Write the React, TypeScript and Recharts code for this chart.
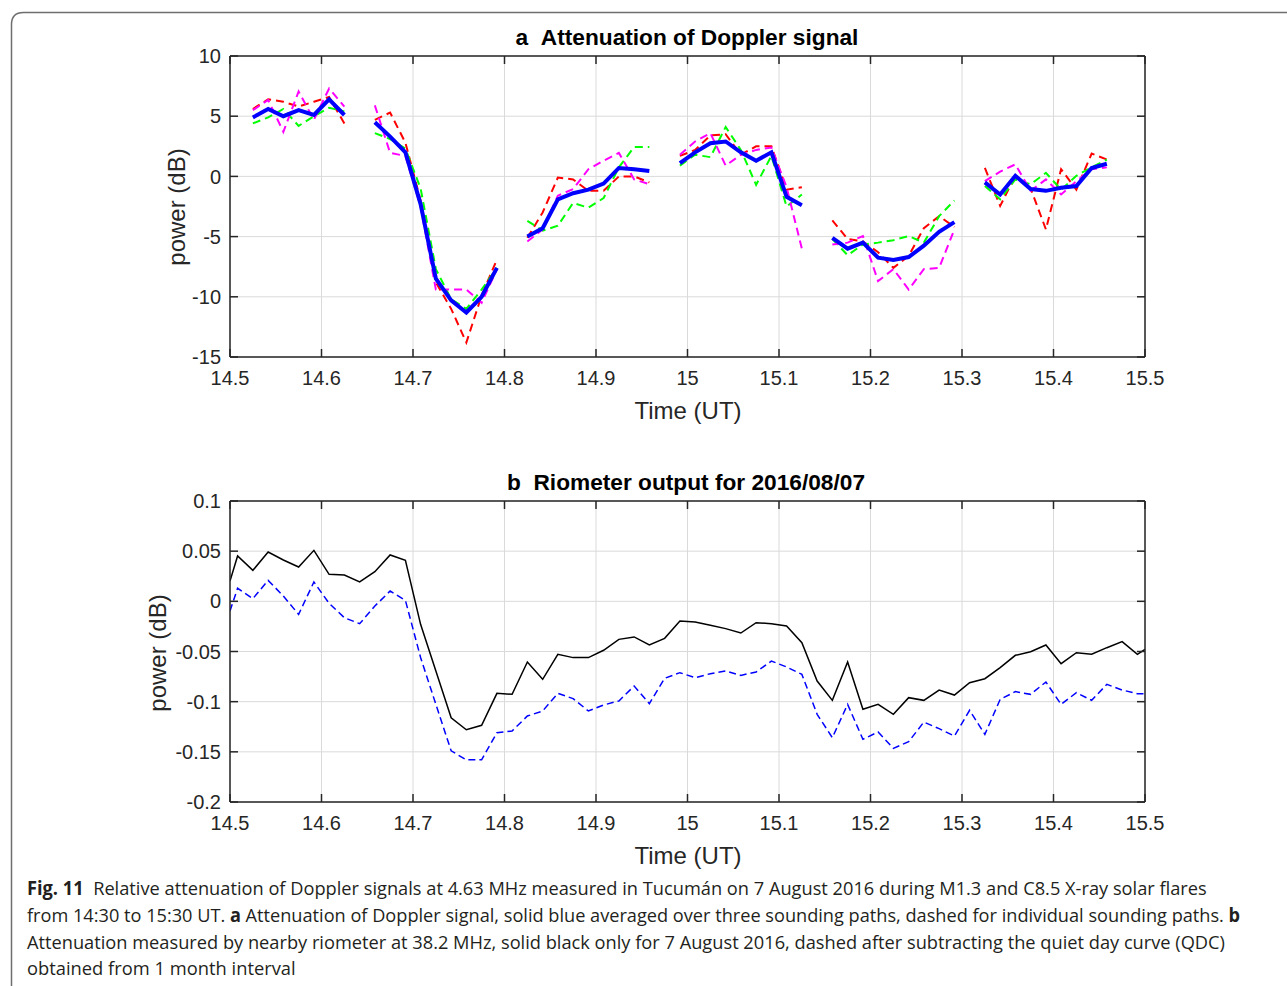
import React, { useLayoutEffect, useRef, useState } from "react";
import { LineChart, Line, XAxis, YAxis, CartesianGrid } from "recharts";

// Doppler attenuation, sampled once a minute (decimal hours UT), six recording windows
const dopplerTimes = [
  [14.525, 14.5417, 14.5583, 14.575, 14.5917, 14.6083, 14.625],
  [14.6583, 14.675, 14.6917, 14.7083, 14.725, 14.7417, 14.7583, 14.775, 14.7917],
  [14.825, 14.8417, 14.8583, 14.875, 14.8917, 14.9083, 14.925, 14.9417, 14.9583],
  [14.9917, 15.0083, 15.025, 15.0417, 15.0583, 15.075, 15.0917, 15.1083, 15.125],
  [15.1583, 15.175, 15.1917, 15.2083, 15.225, 15.2417, 15.2583, 15.275, 15.2917],
  [15.325, 15.3417, 15.3583, 15.375, 15.3917, 15.4083, 15.425, 15.4417, 15.4583],
];
const avgPower = [
  [4.9, 5.6, 5.0, 5.5, 5.1, 6.4, 5.1],
  [4.5, 3.3, 2.0, -2.3, -8.5, -10.3, -11.3, -10.0, -7.6],
  [-5.0, -4.3, -1.9, -1.4, -1.1, -0.6, 0.7, 0.6, 0.45],
  [1.1, 2.0, 2.75, 2.9, 2.0, 1.3, 2.0, -1.7, -2.4],
  [-5.1, -6.0, -5.5, -6.75, -6.95, -6.7, -5.75, -4.6, -3.8],
  [-0.5, -1.5, 0.05, -1.05, -1.2, -0.95, -0.8, 0.7, 1.05],
];
const pathRed = [
  [5.6, 6.4, 6.2, 5.8, 6.2, 6.6, 4.4],
  [4.7, 5.3, 2.8, -2.0, -8.8, -11.0, -13.8, -9.9, -6.9],
  [-5.1, -3.0, -0.1, -0.25, -1.2, -1.2, 0.0, 0.0, -0.5],
  [1.7, 2.2, 3.4, 3.5, 1.8, 2.5, 2.5, -1.1, -0.9],
  [-3.65, -5.2, -5.4, -6.3, -7.6, -6.6, -4.3, -3.3, -4.2],
  [0.7, -2.45, 0.05, -1.0, -4.4, 0.6, -1.1, 1.9, 1.4],
];
const pathGreen = [
  [4.4, 4.9, 5.6, 4.2, 5.0, 5.7, 5.4],
  [3.6, 3.1, 2.3, -1.0, -7.7, -10.2, -11.0, -9.4, -7.6],
  [-3.7, -4.5, -4.1, -2.2, -2.6, -1.8, 0.75, 2.45, 2.45],
  [0.9, 1.8, 1.6, 4.1, 2.2, -0.7, 1.7, -2.5, -1.5],
  [-5.2, -6.55, -5.65, -5.5, -5.3, -4.95, -5.5, -3.3, -2.0],
  [-0.8, -1.9, -0.25, -0.65, 0.3, -1.1, 0.05, 0.75, 1.4],
];
const pathMagenta = [
  [5.5, 6.35, 3.7, 7.05, 4.7, 7.3, 5.8],
  [5.9, 1.95, 1.7, -2.5, -9.4, -9.4, -9.4, -10.5, -7.7],
  [-5.4, -4.4, -1.6, -1.05, 0.6, 1.3, 1.95, -0.25, -0.65],
  [1.8, 2.9, 3.6, 0.9, 1.8, 2.2, 2.4, -0.9, -6.0],
  [-5.65, -5.5, -4.95, -8.7, -7.7, -9.4, -7.7, -7.6, -4.4],
  [-0.4, 0.4, 1.0, -1.2, -0.25, -1.5, -0.4, 0.6, 0.75],
];

// Riometer output, one value per minute
const rioTimes = [
  14.5, 14.5083, 14.525, 14.5417, 14.5583, 14.575, 14.5917, 14.6083, 14.625, 14.6417,
  14.6583, 14.675, 14.6917, 14.7083, 14.725, 14.7417, 14.7583, 14.775, 14.7917, 14.8083,
  14.825, 14.8417, 14.8583, 14.875, 14.8917, 14.9083, 14.925, 14.9417, 14.9583, 14.975,
  14.9917, 15.0083, 15.025, 15.0417, 15.0583, 15.075, 15.0917, 15.1083, 15.125, 15.1417,
  15.1583, 15.175, 15.1917, 15.2083, 15.225, 15.2417, 15.2583, 15.275, 15.2917, 15.3083,
  15.325, 15.3417, 15.3583, 15.375, 15.3917, 15.4083, 15.425, 15.4417, 15.4583, 15.475,
  15.4917, 15.5,
];
const rioRaw = [
  0.0203, 0.0452, 0.0309, 0.0492, 0.0412, 0.0342, 0.0508, 0.0269, 0.0262, 0.0193,
  0.0296, 0.0462, 0.0409, -0.0229, -0.0694, -0.116, -0.128, -0.1236, -0.0917, -0.0927,
  -0.0605, -0.0777, -0.0528, -0.0561, -0.0561, -0.0488, -0.0379, -0.0355, -0.0435, -0.0369,
  -0.0196, -0.0206, -0.0239, -0.0272, -0.0316, -0.0213, -0.0223, -0.0246, -0.0412, -0.0794,
  -0.0987, -0.0605, -0.1076, -0.1027, -0.1126, -0.096, -0.0987, -0.0884, -0.0934, -0.0811,
  -0.0771, -0.0661, -0.0538, -0.0502, -0.0435, -0.0621, -0.0512, -0.0528, -0.0462, -0.0402,
  -0.0528, -0.0478,
];
const rioQdc = [
  -0.0096, 0.013, 0.0027, 0.0209, 0.0053, -0.013, 0.0193, -0.002, -0.0163, -0.0223,
  -0.0047, 0.0103, 0.001, -0.056, -0.1027, -0.149, -0.158, -0.158, -0.1309, -0.1292,
  -0.1143, -0.1093, -0.0917, -0.097, -0.1093, -0.1033, -0.0993, -0.0844, -0.102, -0.0767,
  -0.0711, -0.0761, -0.0721, -0.0694, -0.0738, -0.0704, -0.0595, -0.0654, -0.0728, -0.1126,
  -0.1359, -0.1027, -0.1375, -0.1302, -0.1465, -0.1399, -0.1203, -0.1269, -0.1342, -0.1086,
  -0.1326, -0.0977, -0.09, -0.0927, -0.0804, -0.1027, -0.091, -0.0987, -0.0827, -0.0884,
  -0.092, -0.092,
];

const timeTicks = [14.5, 14.6, 14.7, 14.8, 14.9, 15, 15.1, 15.2, 15.3, 15.4, 15.5];
const dopplerTicks = [-15, -10, -5, 0, 5, 10];
const rioTicks = [-0.2, -0.15, -0.1, -0.05, 0, 0.05, 0.1];

// one row per sample, plus an empty row between windows so the lines break
const dopplerRows = dopplerTimes.flatMap((seg, s) => {
  const rows: any[] = seg.map((t, i) => ({
    t,
    avg: avgPower[s][i],
    red: pathRed[s][i],
    green: pathGreen[s][i],
    magenta: pathMagenta[s][i],
  }));
  if (s < dopplerTimes.length - 1) {
    const gap = (seg[seg.length - 1] + dopplerTimes[s + 1][0]) / 2;
    rows.push({ t: gap, avg: null, red: null, green: null, magenta: null });
  }
  return rows;
});

const rioRows = rioTimes.map((t, i) => ({ t, raw: rioRaw[i], qdc: rioQdc[i] }));

const AXIS = "#262626";
const tickFont = { fontFamily: "Liberation Sans, Arial, sans-serif", fontSize: 20, fill: AXIS };
const fmt = (d: number) => (v: number) => String(Number(v.toFixed(d)));
const blank = () => "";
const edge = { stroke: AXIS, strokeWidth: 1.5 };

// MATLAB-style box: ticks point inward on all four sides, labels only bottom/left
function boxAxes(yDomain: number[], yTicks: number[], yDigits: number, ghostKey: string) {
  return [
    <CartesianGrid key="g" stroke="#dadada" strokeWidth={1} />,
    <XAxis
      key="xb"
      type="number"
      dataKey="t"
      domain={[14.5, 15.5]}
      ticks={timeTicks}
      allowDataOverflow
      height={30}
      tickSize={-8}
      tickMargin={22}
      tick={tickFont}
      tickFormatter={fmt(1)}
      axisLine={edge}
      tickLine={edge}
    />,
    <XAxis
      key="xt"
      xAxisId="top"
      orientation="top"
      type="number"
      dataKey="t"
      domain={[14.5, 15.5]}
      ticks={timeTicks}
      allowDataOverflow
      height={1}
      tickSize={-8}
      tickFormatter={blank}
      axisLine={edge}
      tickLine={edge}
    />,
    <YAxis
      key="yl"
      type="number"
      domain={yDomain}
      ticks={yTicks}
      allowDataOverflow
      width={60}
      tickSize={-8}
      tickMargin={17}
      tick={tickFont}
      tickFormatter={fmt(yDigits)}
      axisLine={edge}
      tickLine={edge}
    />,
    <YAxis
      key="yr"
      yAxisId="right"
      orientation="right"
      type="number"
      domain={yDomain}
      ticks={yTicks}
      allowDataOverflow
      width={1}
      tickSize={-8}
      tickFormatter={blank}
      axisLine={edge}
      tickLine={edge}
    />,
    // invisible series tying the top/right axes to the data so they get drawn
    <Line
      key="ghost"
      xAxisId="top"
      yAxisId="right"
      dataKey={ghostKey}
      stroke="none"
      dot={false}
      activeDot={false}
      isAnimationActive={false}
      legendType="none"
    />,
  ];
}

const chartMargin = { top: 55, right: 141, left: 170, bottom: 13 };

function DopplerPanel() {
  const dashed = { strokeWidth: 2, strokeDasharray: "8 5", dot: false, activeDot: false, isAnimationActive: false, connectNulls: false };
  return (
    <LineChart width={1287} height={400} data={dopplerRows} margin={chartMargin}>
      {boxAxes([-15, 10], dopplerTicks, 0, "avg")}
      <Line type="linear" dataKey="red" stroke="#ff0000" {...dashed} />
      <Line type="linear" dataKey="green" stroke="#00ff00" {...dashed} />
      <Line type="linear" dataKey="magenta" stroke="#ff00ff" {...dashed} />
      <Line
        type="linear"
        dataKey="avg"
        stroke="#0000ff"
        strokeWidth={4}
        dot={false}
        activeDot={false}
        isAnimationActive={false}
        connectNulls={false}
      />
    </LineChart>
  );
}

function RiometerPanel() {
  return (
    <LineChart width={1287} height={400} data={rioRows} margin={chartMargin}>
      {boxAxes([-0.2, 0.1], rioTicks, 2, "raw")}
      <Line
        type="linear"
        dataKey="qdc"
        stroke="#0000ff"
        strokeWidth={1.5}
        strokeDasharray="7 4"
        dot={false}
        activeDot={false}
        isAnimationActive={false}
      />
      <Line
        type="linear"
        dataKey="raw"
        stroke="#000000"
        strokeWidth={1.5}
        dot={false}
        activeDot={false}
        isAnimationActive={false}
      />
    </LineChart>
  );
}

const labelFont = "Liberation Sans, Arial, sans-serif";
const capFont = "'Open Sans', 'Noto Sans', sans-serif";
const capColor = "#231f20";

// caption line squeezed horizontally to a set width (the journal face is condensed)
function CaptionLine({ y, width, children }: { y: number; width: number; children: React.ReactNode }) {
  const ref = useRef<SVGTextElement>(null);
  const [sx, setSx] = useState(1);
  useLayoutEffect(() => {
    const w = ref.current ? ref.current.getComputedTextLength() : 0;
    if (w > 0) setSx(width / w);
  }, [width]);
  return (
    <text
      ref={ref}
      transform={`translate(27 ${y}) scale(${sx} 1)`}
      fontFamily={capFont}
      fontSize={19}
      fill={capColor}
    >
      {children}
    </text>
  );
}

function Overlay() {
  return (
    <svg width={1287} height={986} style={{ position: "absolute", left: 0, top: 0, pointerEvents: "none" }}>
      <path d="M 11.5 1000 L 11.5 24.5 Q 11.5 12.5 23.5 12.5 L 1300 12.5" fill="none" stroke="#6e6e6e" strokeWidth={1.5} />

      <text x={687} y={45} textAnchor="middle" fontFamily={labelFont} fontSize={22.7} fontWeight="bold" fill="#000">
        a{"\u00a0\u00a0"}Attenuation of Doppler signal
      </text>
      <text x={686} y={490} textAnchor="middle" fontFamily={labelFont} fontSize={22.7} fontWeight="bold" fill="#000">
        b{"\u00a0\u00a0"}Riometer output for 2016/08/07
      </text>

      <text x={688} y={419} textAnchor="middle" fontFamily={labelFont} fontSize={24} fill={AXIS}>
        Time (UT)
      </text>
      <text x={688} y={864} textAnchor="middle" fontFamily={labelFont} fontSize={24} fill={AXIS}>
        Time (UT)
      </text>
      <text
        transform="translate(176 207) rotate(-90)"
        textAnchor="middle"
        dominantBaseline="central"
        fontFamily={labelFont}
        fontSize={24}
        fill={AXIS}
      >
        power (dB)
      </text>
      <text
        transform="translate(157 653) rotate(-90)"
        textAnchor="middle"
        dominantBaseline="central"
        fontFamily={labelFont}
        fontSize={24}
        fill={AXIS}
      >
        power (dB)
      </text>

      <CaptionLine y={895} width={1181}>
        <tspan fontWeight="bold">Fig. 11</tspan>
        {"\u00a0\u00a0"}Relative attenuation of Doppler signals at 4.63 MHz measured in Tucumán on 7 August 2016 during M1.3 and C8.5 X-ray solar flares
      </CaptionLine>
      <CaptionLine y={922} width={1214}>
        from 14:30 to 15:30 UT. <tspan fontWeight="bold">a</tspan> Attenuation of Doppler signal, solid blue averaged over three sounding paths, dashed for individual sounding paths. <tspan fontWeight="bold">b</tspan>
      </CaptionLine>
      <CaptionLine y={949} width={1199}>
        Attenuation measured by nearby riometer at 38.2 MHz, solid black only for 7 August 2016, dashed after subtracting the quiet day curve (QDC)
      </CaptionLine>
      <CaptionLine y={975} width={269}>
        obtained from 1 month interval
      </CaptionLine>
    </svg>
  );
}

export default function App() {
  return (
    <div style={{ position: "absolute", left: 0, top: 0, width: 1287, height: 986, overflow: "hidden", background: "#fff" }}>
      <div style={{ position: "absolute", left: 0, top: 0 }}>
        <DopplerPanel />
      </div>
      <div style={{ position: "absolute", left: 0, top: 445 }}>
        <RiometerPanel />
      </div>
      <Overlay />
    </div>
  );
}
